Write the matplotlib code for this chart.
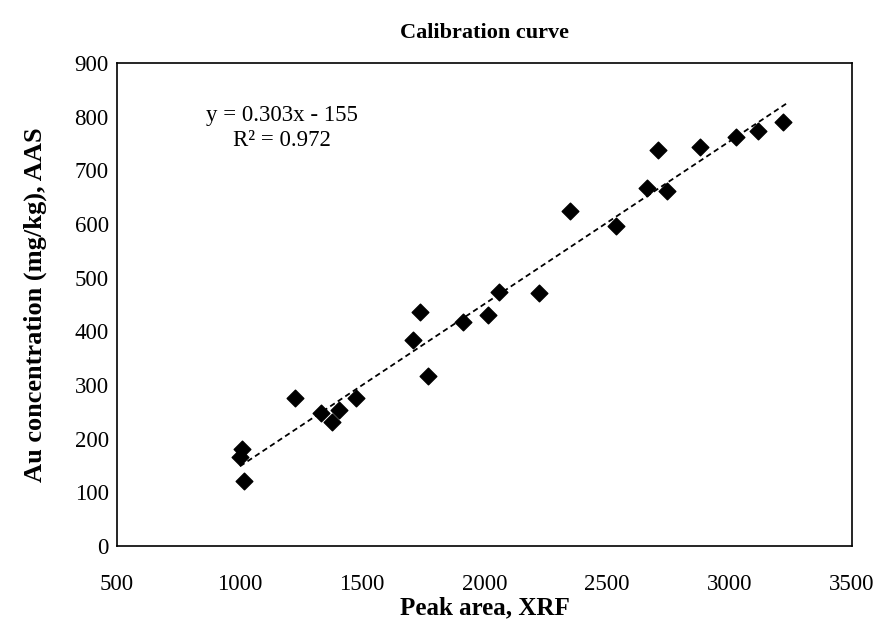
import matplotlib
matplotlib.use("Agg")
import matplotlib.pyplot as plt
import numpy as np

# data
peak_area = [1010, 1002, 1018, 1227, 1333, 1378, 1406, 1476, 1708, 1737, 1769,
             1912, 2014, 2059, 2222, 2349, 2535, 2663, 2708, 2745, 2880, 3027,
             3116, 3218]
au_conc = [181, 166, 121, 276, 248, 231, 253, 276, 384, 436, 317,
           417, 430, 473, 471, 624, 596, 667, 738, 661, 743, 762,
           773, 790]
slope = 0.303
intercept = -155
r_squared = 0.972

x_ticks = [500, 1000, 1500, 2000, 2500, 3000, 3500]
y_ticks = [0, 100, 200, 300, 400, 500, 600, 700, 800, 900]

plt.rcParams['font.family'] = ['Liberation Serif', 'DejaVu Serif']

fig = plt.figure(figsize=(8.75, 6.39), dpi=100)
ax = fig.add_axes([0.1337, 0.1455, 0.84, 0.7559])

ax.scatter(peak_area, au_conc, marker='D', s=72, color='black', zorder=3)

# linear trendline
x_fit = np.array([min(peak_area), max(peak_area) + 20])
ax.plot(x_fit, slope * x_fit + intercept, color='black', linestyle=(0, (3, 2)),
        linewidth=1.3, zorder=2)

ax.text(1173, 779, f"y = {slope}x - {abs(intercept)}\nR\u00b2 = {r_squared}",
        ha='center', va='center', fontsize=16.5, linespacing=1.3)

ax.set_xlim(500, 3500)
ax.set_ylim(0, 900)
ax.set_xticks(x_ticks)
ax.set_yticks(y_ticks)
ax.tick_params(length=0, labelsize=16.5)
ax.tick_params(axis='x', pad=20)
ax.tick_params(axis='y', pad=6)
for s in ax.spines.values():
    s.set_linewidth(1.2)
    s.set_color('black')

fig.text(0.554, 0.948, "Calibration curve", ha='center', va='center',
         fontsize=16, fontweight='bold')
ax.set_xlabel("Peak area, XRF", fontsize=18, fontweight='bold', labelpad=1)
ax.set_ylabel("Au concentration (mg/kg), AAS", fontsize=19, fontweight='bold',
              labelpad=20)

fig.savefig("out.png", dpi=100)
